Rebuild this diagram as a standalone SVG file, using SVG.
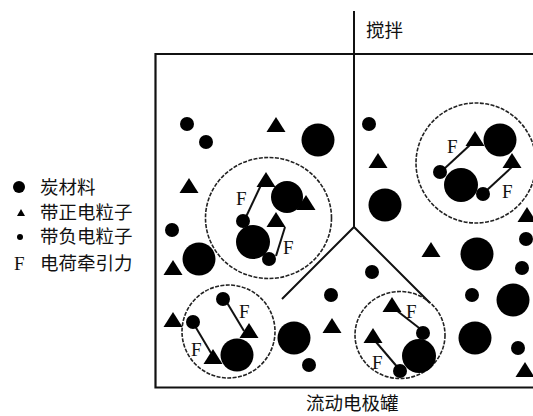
<svg xmlns="http://www.w3.org/2000/svg" xmlns:xlink="http://www.w3.org/1999/xlink" width="533" height="416" viewBox="0 0 533 416">
  <style>
    .wall { fill: none; stroke: #111; stroke-width: 2.2; }
    .blade { fill: none; stroke: #111; stroke-width: 2; }
    .zone { fill: none; stroke: #222; stroke-width: 1.6; stroke-dasharray: 4 1.4; }
    .force { stroke: #111; stroke-width: 2; }
    .big { fill: #000; }
    .small { fill: #000; }
    .tri { fill: #000; }
    .cjk { font-family: "Noto Sans CJK SC", "Noto Sans", sans-serif; font-size: 18.5px; fill: #111; }
    .f { font-family: "Liberation Serif", "DejaVu Serif", serif; font-size: 19px; fill: #111; }
  </style>
  <defs>
    <!-- apex-anchored particle triangle -->
    <path id="tri" d="M0,0 L9.5,15 L-9.5,15 Z"/>
  </defs>

  <!-- tank walls and stirrer -->
  <g id="tank">
    <path class="wall" d="M540,54 H155.5 V387.5 H540"/>
    <text class="cjk" x="306" y="410">流动电极罐</text>
  </g>
  <g id="stirrer">
    <path class="blade" d="M354,11 V227 M282,299 L354,227 L430,303"/>
    <text class="cjk" x="366" y="37">搅拌</text>
  </g>

  <!-- legend -->
  <g id="legend">
    <circle class="big" cx="19" cy="187" r="6"/>
    <text class="cjk" x="40" y="194">炭材料</text>
    <path class="tri" d="M21,209 L25,216 L17,216 Z"/>
    <text class="cjk" x="40" y="219">带正电粒子</text>
    <circle class="small" cx="20" cy="237" r="3"/>
    <text class="cjk" x="40" y="243">带负电粒子</text>
    <text class="f" x="14" y="270">F</text>
    <text class="cjk" x="40" y="270">电荷牵引力</text>
  </g>

  <!-- free particles -->
  <g id="free-particles">
    <circle class="big" cx="318" cy="140" r="16.5"/>
    <circle class="big" cx="199" cy="259" r="16.5"/>
    <circle class="big" cx="385" cy="205" r="16.5"/>
    <circle class="big" cx="477" cy="254" r="16.5"/>
    <circle class="big" cx="294" cy="338" r="16.5"/>
    <circle class="big" cx="475" cy="338" r="16.5"/>
    <circle class="big" cx="513" cy="300" r="16.5"/>

    <circle class="small" cx="187" cy="124" r="7"/>
    <circle class="small" cx="206" cy="142" r="7"/>
    <circle class="small" cx="369" cy="124" r="7"/>
    <circle class="small" cx="172" cy="230" r="7"/>
    <circle class="small" cx="526" cy="239" r="7"/>
    <circle class="small" cx="522" cy="268" r="7"/>
    <circle class="small" cx="472" cy="295" r="7"/>
    <circle class="small" cx="372" cy="272" r="7"/>
    <circle class="small" cx="331" cy="295" r="7"/>
    <circle class="small" cx="309" cy="365" r="7"/>
    <circle class="small" cx="518" cy="348" r="7"/>

    <use class="tri" href="#tri" xlink:href="#tri" x="276" y="117"/>
    <use class="tri" href="#tri" xlink:href="#tri" x="189" y="178"/>
    <use class="tri" href="#tri" xlink:href="#tri" x="173" y="260"/>
    <use class="tri" href="#tri" xlink:href="#tri" x="378" y="153"/>
    <use class="tri" href="#tri" xlink:href="#tri" x="431" y="242"/>
    <use class="tri" href="#tri" xlink:href="#tri" x="527" y="207"/>
    <use class="tri" href="#tri" xlink:href="#tri" x="173" y="312"/>
    <use class="tri" href="#tri" xlink:href="#tri" x="332" y="318"/>
    <use class="tri" href="#tri" xlink:href="#tri" x="525" y="362"/>
  </g>

  <!-- attraction zone, upper left -->
  <g id="zone-1">
    <ellipse class="zone" cx="268.5" cy="218" rx="63" ry="60.5"/>
    <line class="force" x1="261" y1="185" x2="245" y2="219"/>
    <line class="force" x1="285" y1="227" x2="276" y2="256"/>
    <use class="tri" href="#tri" xlink:href="#tri" x="266" y="172"/>
    <circle class="big" cx="287" cy="197" r="16"/>
    <use class="tri" href="#tri" xlink:href="#tri" x="306" y="195"/>
    <circle class="small" cx="243" cy="221" r="7"/>
    <circle class="big" cx="253" cy="242" r="17"/>
    <use class="tri" href="#tri" xlink:href="#tri" x="276" y="212"/>
    <circle class="small" cx="269" cy="259" r="7"/>
    <text class="f" x="236" y="205">F</text>
    <text class="f" x="283" y="254">F</text>
  </g>

  <!-- attraction zone, upper right -->
  <g id="zone-2">
    <circle class="zone" cx="476" cy="163" r="60"/>
    <line class="force" x1="444" y1="169" x2="470" y2="145"/>
    <line class="force" x1="486" y1="191" x2="513" y2="166"/>
    <use class="tri" href="#tri" xlink:href="#tri" x="475" y="131"/>
    <circle class="big" cx="500" cy="140" r="16.5"/>
    <use class="tri" href="#tri" xlink:href="#tri" x="512" y="153"/>
    <circle class="small" cx="440" cy="172" r="7"/>
    <circle class="big" cx="461" cy="185" r="17"/>
    <circle class="small" cx="483" cy="194" r="7"/>
    <text class="f" x="447" y="153">F</text>
    <text class="f" x="502" y="198">F</text>
  </g>

  <!-- attraction zone, lower left -->
  <g id="zone-3">
    <circle class="zone" cx="228.5" cy="331.5" r="46.5"/>
    <line class="force" x1="226" y1="301" x2="244" y2="331"/>
    <line class="force" x1="195" y1="326" x2="211" y2="353"/>
    <circle class="small" cx="223" cy="299" r="7"/>
    <use class="tri" href="#tri" xlink:href="#tri" x="249" y="323"/>
    <circle class="small" cx="193" cy="322" r="7"/>
    <use class="tri" href="#tri" xlink:href="#tri" x="213" y="349"/>
    <circle class="big" cx="237" cy="355" r="16.5"/>
    <text class="f" x="239" y="318">F</text>
    <text class="f" x="191" y="356">F</text>
  </g>

  <!-- attraction zone, lower right -->
  <g id="zone-4">
    <ellipse class="zone" cx="400" cy="335" rx="45" ry="43.5"/>
    <line class="force" x1="396" y1="310" x2="423" y2="331"/>
    <line class="force" x1="376" y1="342" x2="399" y2="369"/>
    <use class="tri" href="#tri" xlink:href="#tri" x="392" y="297"/>
    <use class="tri" href="#tri" xlink:href="#tri" x="373" y="328"/>
    <circle class="small" cx="423" cy="333" r="7"/>
    <circle class="big" cx="419" cy="356" r="17"/>
    <circle class="small" cx="400" cy="371" r="7"/>
    <text class="f" x="406" y="318">F</text>
    <text class="f" x="372" y="369">F</text>
  </g>
</svg>
